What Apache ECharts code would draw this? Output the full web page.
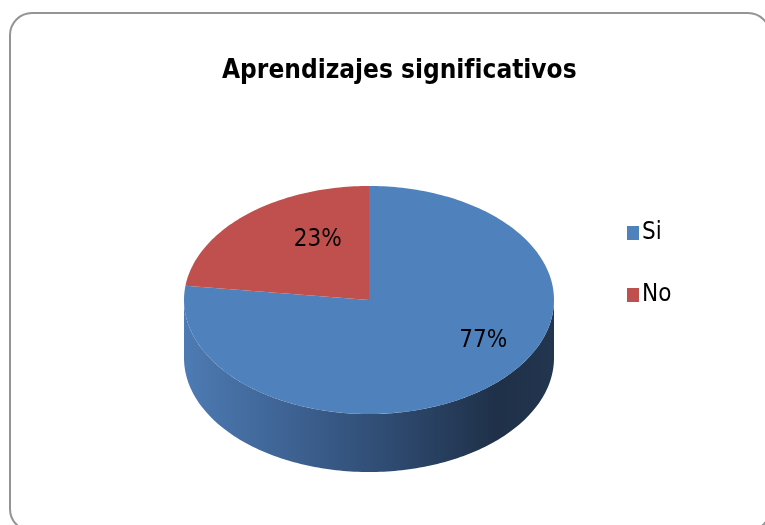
<!DOCTYPE html>
<html lang="es">
<head>
  <meta http-equiv="Content-Type" content="text/html; charset=UTF-8">
  <title>Aprendizajes significativos</title>
  <style>
    html, body { margin: 0; padding: 0; background: #fff; }
  </style>
</head>
<body>
  <div id="chart" style="width: 765px; height: 525px;"></div>
  <script src="https://cdn.jsdelivr.net/npm/echarts@6/dist/echarts.min.js"></script>
  <script>
    // datos
    const categories = ['Si', 'No'];
    const values = [77, 23];
    const colors = ['#4f81bd', '#c0504d'];

    // geometria del pastel 3D (elipse superior + grosor)
    const cx = 369, cy = 300, rx = 185, ry = 114, depth = 58;
    const labelNudge = [[47, -6], [16, -13]];
    const FONT = '"Liberation Sans Narrow", "DejaVu Sans Condensed", sans-serif';

    const total = values.reduce((a, b) => a + b, 0);
    const starts = [];
    let acc = 0;
    values.forEach(v => { starts.push(acc / total * Math.PI * 2); acc += v; });

    function pt(t, dy) {
      return [cx + rx * Math.sin(t), cy - ry * Math.cos(t) + (dy || 0)];
    }
    function arc(a0, a1, dy) {
      const n = Math.max(2, Math.ceil(Math.abs(a1 - a0) / 0.02));
      const out = [];
      for (let k = 0; k <= n; k++) out.push(pt(a0 + (a1 - a0) * k / n, dy));
      return out;
    }

    const sideFill = {
      type: 'linear', x: cx - rx, y: 0, x2: cx + rx, y2: 0, global: true,
      colorStops: [
        { offset: 0, color: '#4d7bb3' },
        { offset: 0.3, color: '#3d6191' },
        { offset: 0.6, color: '#2c476b' },
        { offset: 0.85, color: '#1f3048' },
        { offset: 1, color: '#23364f' }
      ]
    };

    // paredes laterales (solo la mitad frontal es visible)
    function renderSide(params) {
      const i = params.dataIndex;
      const a0 = starts[i];
      const a1 = a0 + values[i] / total * Math.PI * 2;
      const s = Math.max(a0, Math.PI / 2);
      const e = Math.min(a1, Math.PI * 3 / 2);
      if (s >= e) return null;
      const pts = arc(s, e, 0).concat(arc(e, s, depth));
      return { type: 'polygon', shape: { points: pts }, style: { fill: sideFill } };
    }

    // cara superior de cada porción
    function renderTop(i) {
      return function () {
        const a0 = starts[i];
        const a1 = a0 + values[i] / total * Math.PI * 2;
        const mid = (a0 + a1) / 2;
        const lp = [cx + 0.55 * rx * Math.sin(mid) + labelNudge[i][0],
                    cy - 0.55 * ry * Math.cos(mid) + labelNudge[i][1]];
        return {
          type: 'group',
          children: [{
            type: 'polygon',
            shape: { points: [[cx, cy]].concat(arc(a0, a1, 0)) },
            style: { fill: colors[i] }
          }, {
            type: 'text',
            x: lp[0], y: lp[1],
            style: {
              text: Math.round(values[i] / total * 100) + '%',
              fill: '#000', font: '24px ' + FONT,
              align: 'center', verticalAlign: 'middle'
            }
          }]
        };
      };
    }

    const series = [{
      type: 'custom',
      name: 'lados',
      coordinateSystem: 'none',
      silent: true,
      renderItem: renderSide,
      data: values
    }];
    categories.forEach((name, i) => {
      series.push({
        type: 'custom',
        name: name,
        coordinateSystem: 'none',
        itemStyle: { color: colors[i] },
        renderItem: renderTop(i),
        data: [values[i]],
        z: 3
      });
    });

    const myChart = echarts.init(document.getElementById('chart'));
    myChart.setOption({
      animation: false,
      title: {
        text: 'Aprendizajes significativos',
        left: 217,
        top: 53,
        textStyle: { fontFamily: FONT, fontSize: 26, fontWeight: 'bold', color: '#000' }
      },
      legend: {
        data: categories,
        orient: 'vertical',
        left: 622,
        top: 216,
        icon: 'rect',
        itemWidth: 12,
        itemHeight: 14,
        itemGap: 38,
        selectedMode: false,
        textStyle: { fontFamily: FONT, fontSize: 24, color: '#000', padding: [0, 0, 0, -2] }
      },
      graphic: [{
        type: 'rect',
        shape: { x: 10, y: 13, width: 760, height: 518, r: 22 },
        style: { fill: 'none', stroke: '#949494', lineWidth: 2 },
        silent: true,
        z: -1
      }],
      series: series
    });
  </script>
</body>
</html>
